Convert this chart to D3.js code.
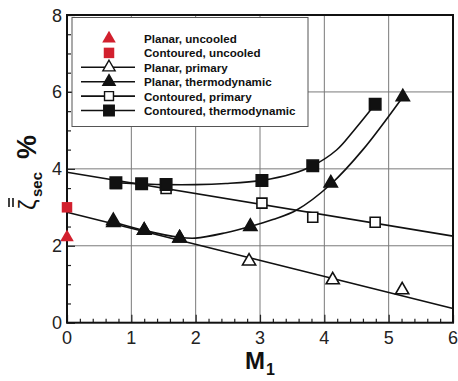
<!DOCTYPE html>
<html>
  <head>
    <meta charset="utf-8">
    <title>zeta sec vs M1</title>
    <style>
      body { margin: 0; background: #fff; }
      text { font-family: "Liberation Sans", Arial, sans-serif; }
    </style>
  </head>
  <body>
    <script src="https://cdn.jsdelivr.net/npm/d3@7/dist/d3.min.js" charset="utf-8"></script>
    <script type="text/javascript">
      // measured points
      var planarUncooledX = [0];
      var planarUncooledY = [2.22];
      var contUncooledX = [0];
      var contUncooledY = [3.0];
      var planarPrimX = [0.72, 1.2, 1.75, 2.83, 4.13, 5.21];
      var planarPrimY = [2.65, 2.4, 2.2, 1.6, 1.11, 0.85];
      var planarThermoX = [0.72, 1.2, 1.75, 2.85, 4.1, 5.22];
      var planarThermoY = [2.6, 2.4, 2.2, 2.5, 3.63, 5.87];
      var contPrimX = [0.76, 1.16, 1.54, 3.03, 3.82, 4.79];
      var contPrimY = [3.62, 3.6, 3.49, 3.11, 2.74, 2.61];
      var contThermoX = [0.76, 1.16, 1.54, 3.03, 3.82, 4.79];
      var contThermoY = [3.64, 3.61, 3.59, 3.7, 4.08, 5.68];

      // fit curves
      var planarPrimFitX = [0, 6];
      var planarPrimFitY = [2.87, 0.37];
      var contPrimFitX = [0, 6];
      var contPrimFitY = [3.91, 2.25];
      var planarThermoFitX = [0.72, 1.2, 1.75, 2.0, 2.47, 2.85, 3.2, 3.57, 4.1, 4.6, 5.22];
      var planarThermoFitY = [2.62, 2.4, 2.22, 2.2, 2.34, 2.5, 2.68, 2.93, 3.6, 4.5, 5.87];
      var contThermoFitX = [0.76, 1.16, 1.54, 2.0, 2.47, 3.03, 3.5, 3.82, 4.19, 4.45, 4.79];
      var contThermoFitY = [3.64, 3.61, 3.59, 3.59, 3.62, 3.7, 3.87, 4.08, 4.49, 4.98, 5.68];

      var xTicks = [0, 1, 2, 3, 4, 5, 6];
      var yTicks = [0, 2, 4, 6, 8];
      var legendLabels = ["Planar, uncooled", "Contoured, uncooled", "Planar, primary",
                          "Planar, thermodynamic", "Contoured, primary", "Contoured, thermodynamic"];

      var red = "#d2202e";
      var width = 458, height = 381;
      var svg = d3.select("body").append("svg")
                  .attr("width", width)
                  .attr("height", height);

      var x = d3.scaleLinear().domain([0, 6]).range([67, 453]);
      var y = d3.scaleLinear().domain([0, 8]).range([322.7, 15]);

      function zip(xs, ys) { return xs.map(function(d, i) { return [d, ys[i]]; }); }

      // grid
      var grid = svg.append("g").attr("stroke", "#7a7a7a").attr("stroke-width", 1);
      grid.selectAll(".gx").data(xTicks.slice(1, -1)).enter().append("line")
          .attr("x1", function(d) { return x(d); }).attr("x2", function(d) { return x(d); })
          .attr("y1", y(0)).attr("y2", y(8));
      grid.selectAll(".gy").data(yTicks.slice(1, -1)).enter().append("line")
          .attr("y1", function(d) { return y(d); }).attr("y2", function(d) { return y(d); })
          .attr("x1", x(0)).attr("x2", x(6));

      // axes with inward ticks
      var xMinor = d3.range(0, 6.001, 0.2).filter(function(d) { return Math.abs(d - Math.round(d)) > 0.01; });
      var yMinor = d3.range(0, 8.001, 0.5).filter(function(d) { return d % 2 !== 0; });

      var xAxis = svg.append("g").attr("transform", "translate(0," + y(0) + ")")
          .call(d3.axisTop(x).tickValues(xTicks).tickSize(8).tickFormat(""));
      xAxis.append("g").call(d3.axisTop(x).tickValues(xMinor).tickSize(4).tickFormat(""));
      var yAxis = svg.append("g").attr("transform", "translate(" + x(0) + ",0)")
          .call(d3.axisRight(y).tickValues(yTicks).tickSize(8).tickFormat(""));
      yAxis.append("g").call(d3.axisRight(y).tickValues(yMinor).tickSize(4).tickFormat(""));
      svg.selectAll(".domain").remove();
      svg.selectAll(".tick line").attr("stroke", "#222").attr("stroke-width", 1.2);

      svg.append("rect")
         .attr("x", x(0)).attr("y", y(8))
         .attr("width", x(6) - x(0)).attr("height", y(0) - y(8))
         .attr("fill", "none").attr("stroke", "#111").attr("stroke-width", 2);

      // tick labels
      svg.selectAll(".xl").data(xTicks).enter().append("text")
         .attr("x", function(d) { return x(d); }).attr("y", 344)
         .attr("text-anchor", "middle").attr("font-size", 18).attr("fill", "#222")
         .text(function(d) { return d; });
      svg.selectAll(".yl").data(yTicks).enter().append("text")
         .attr("x", 62).attr("y", function(d) { return y(d) + 6.5; })
         .attr("text-anchor", "end").attr("font-size", 18).attr("fill", "#222")
         .text(function(d) { return d; });

      // axis titles
      var xt = svg.append("text").attr("x", 245).attr("y", 369)
                  .attr("font-size", 24).attr("font-weight", "bold").attr("fill", "#111");
      xt.append("tspan").text("M");
      xt.append("tspan").attr("font-size", 16).attr("dy", 6).attr("dx", 1).text("1");

      var yt = svg.append("g").attr("transform", "translate(36,210) rotate(-90)");
      yt.append("text").attr("x", 0).attr("y", 0).attr("font-size", 24).attr("fill", "#111").text("ζ");
      yt.append("text").attr("x", 13).attr("y", 6).attr("font-size", 15)
        .attr("font-weight", "bold").attr("fill", "#111").text("sec");
      yt.append("text").attr("x", 51).attr("y", 0).attr("font-size", 27)
        .attr("font-weight", "bold").attr("fill", "#111").text("%");
      yt.selectAll(".bar").data([-23, -27]).enter().append("line")
        .attr("x1", 3).attr("x2", 12)
        .attr("y1", function(d) { return d; }).attr("y2", function(d) { return d; })
        .attr("stroke", "#111").attr("stroke-width", 1.6);

      // fit lines
      var line = d3.line().x(function(d) { return x(d[0]); }).y(function(d) { return y(d[1]); });
      var curve = d3.line().curve(d3.curveCatmullRom.alpha(0.5))
                    .x(function(d) { return x(d[0]); }).y(function(d) { return y(d[1]); });
      var lines = svg.append("g").attr("fill", "none").attr("stroke", "#111").attr("stroke-width", 1.6);
      lines.append("path").attr("d", line(zip(planarPrimFitX, planarPrimFitY)));
      lines.append("path").attr("d", line(zip(contPrimFitX, contPrimFitY)));
      lines.append("path").attr("d", curve(zip(planarThermoFitX, planarThermoFitY)));
      lines.append("path").attr("d", curve(zip(contThermoFitX, contThermoFitY)));

      // markers
      var tri = d3.symbol().type(d3.symbolTriangle);
      var sq = d3.symbol().type(d3.symbolSquare);
      function markers(xs, ys, sym, size, fill, stroke) {
        svg.append("g").selectAll("path").data(zip(xs, ys)).enter().append("path")
           .attr("transform", function(d) { return "translate(" + x(d[0]) + "," + y(d[1]) + ")"; })
           .attr("d", sym.size(size)())
           .attr("fill", fill).attr("stroke", stroke).attr("stroke-width", 1.6);
      }
      markers(contPrimX, contPrimY, sq, 100, "#fff", "#111");
      markers(planarPrimX, planarPrimY, tri, 75, "#fff", "#111");
      markers(planarThermoX, planarThermoY, tri, 75, "#111", "#111");
      markers(contThermoX, contThermoY, sq, 130, "#111", "#111");
      markers(contUncooledX, contUncooledY, sq, 110, red, "none");
      markers(planarUncooledX, planarUncooledY, tri, 80, red, "none");

      // legend
      var lg = svg.append("g");
      lg.append("rect").attr("x", 72).attr("y", 17.5).attr("width", 236).attr("height", 109)
        .attr("fill", "#fff").attr("stroke", "#555").attr("stroke-width", 1);
      var legendSym = [
        { sym: tri, size: 80, fill: red, stroke: "none", line: false },
        { sym: sq, size: 110, fill: red, stroke: "none", line: false },
        { sym: tri, size: 65, fill: "#fff", stroke: "#111", line: true },
        { sym: tri, size: 65, fill: "#111", stroke: "#111", line: true },
        { sym: sq, size: 80, fill: "#fff", stroke: "#111", line: true },
        { sym: sq, size: 110, fill: "#111", stroke: "#111", line: true }
      ];
      var rows = lg.selectAll(".row").data(legendLabels).enter().append("g")
                   .attr("transform", function(d, i) { return "translate(0," + (38.5 + i * 14.4) + ")"; });
      rows.each(function(d, i) {
        var g = d3.select(this), s = legendSym[i];
        if (s.line) g.append("line").attr("x1", 81).attr("x2", 135)
                     .attr("stroke", "#111").attr("stroke-width", 1.6);
        g.append("path").attr("transform", "translate(109,0)").attr("d", s.sym.size(s.size)())
         .attr("fill", s.fill).attr("stroke", s.stroke).attr("stroke-width", 1.4);
        g.append("text").attr("x", 144).attr("y", 4.5).attr("font-size", 11.6)
         .attr("font-weight", "bold").attr("fill", "#111").text(d);
      });
    </script>
  </body>
</html>
